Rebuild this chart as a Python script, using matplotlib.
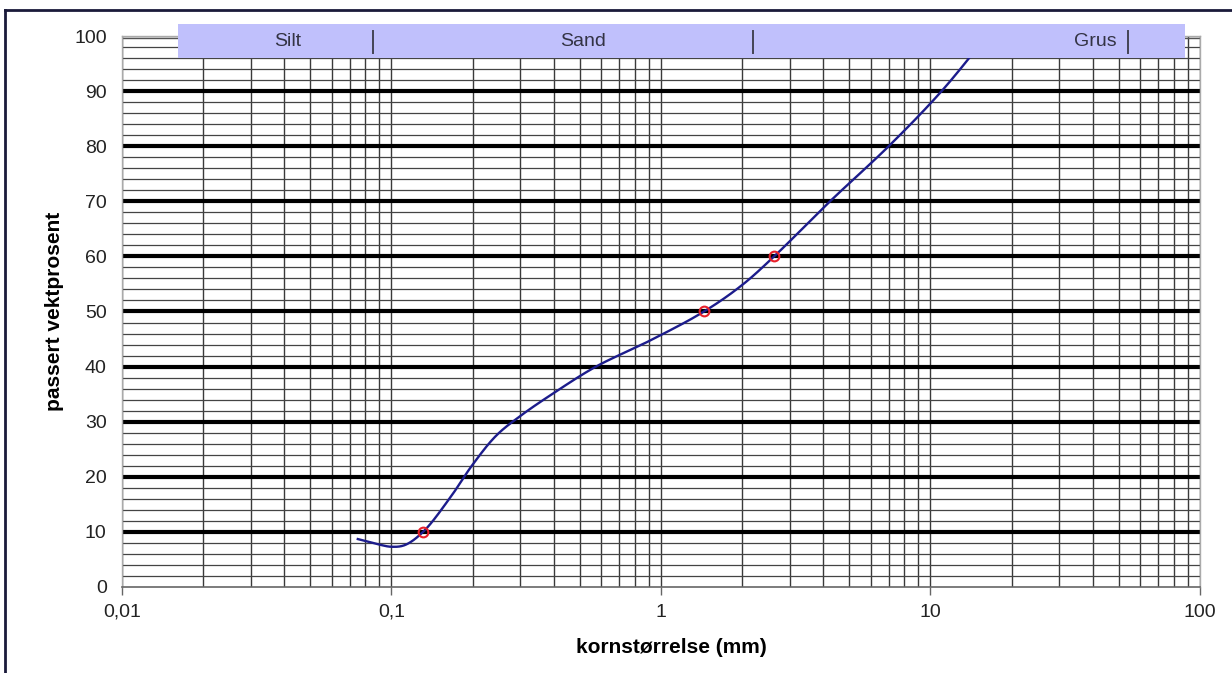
import numpy as np
import matplotlib
matplotlib.use("Agg")
import matplotlib.pyplot as plt
from matplotlib.patches import Rectangle
from matplotlib.lines import Line2D
from matplotlib.ticker import FixedLocator, FuncFormatter, LogLocator, NullFormatter

plt.rcParams['font.family'] = ['Liberation Sans', 'DejaVu Sans']

# Grain size distribution (sieve curve)
grain_mm = [0.075, 0.09, 0.1, 0.112, 0.131, 0.165, 0.2, 0.245, 0.3, 0.4, 0.574,
            0.9, 1.445, 2.0, 2.63, 4.24, 7.0, 11.0, 16.2]
passing_pct = [8.7, 7.7, 7.3, 7.6, 10.0, 16.2, 22.2, 27.5, 31.0, 35.2, 40.0,
               44.6, 50.0, 54.8, 60.0, 70.0, 80.0, 90.0, 100.0]

# Characteristic diameters d10, d50, d60
char_mm = [0.131, 1.445, 2.63]
char_pct = [10, 50, 60]

# Soil class band
class_names = ["Silt", "Sand", "Grus"]
x_tick_labels = ["0,01", "0,1", "1", "10", "100"]
x_tick_values = [0.01, 0.1, 1, 10, 100]


def smooth_curve(xs, ys, n=30):
    """Centripetal Catmull-Rom through the points (log-x, scaled to similar units)."""
    P = np.column_stack([np.log10(np.asarray(xs, float)) * 49.0,
                         np.asarray(ys, float)])
    P = np.vstack([2 * P[0] - P[1], P, 2 * P[-1] - P[-2]])
    out = []
    for i in range(1, len(P) - 2):
        p0, p1, p2, p3 = P[i - 1], P[i], P[i + 1], P[i + 2]
        t0 = 0.0
        t1 = t0 + np.linalg.norm(p1 - p0) ** 0.5
        t2 = t1 + np.linalg.norm(p2 - p1) ** 0.5
        t3 = t2 + np.linalg.norm(p3 - p2) ** 0.5
        t = np.linspace(t1, t2, n, endpoint=False)[:, None]
        a1 = (t1 - t) / (t1 - t0) * p0 + (t - t0) / (t1 - t0) * p1
        a2 = (t2 - t) / (t2 - t1) * p1 + (t - t1) / (t2 - t1) * p2
        a3 = (t3 - t) / (t3 - t2) * p2 + (t - t2) / (t3 - t2) * p3
        b1 = (t2 - t) / (t2 - t0) * a1 + (t - t0) / (t2 - t0) * a2
        b2 = (t3 - t) / (t3 - t1) * a2 + (t - t1) / (t3 - t1) * a3
        c = (t2 - t) / (t2 - t1) * b1 + (t - t1) / (t2 - t1) * b2
        out.append(c)
    out.append(P[-2][None, :])
    C = np.vstack(out)
    return 10 ** (C[:, 0] / 49.0), C[:, 1]


fig = plt.figure(figsize=(12.32, 6.73), dpi=100)
ax = fig.add_axes([0.099, 0.1278, 0.875, 0.8187])

ax.set_xscale('log')
ax.set_xlim(0.01, 100)
ax.set_ylim(0, 100)

# Grid: log minor verticals, 2 % horizontals, heavy 10 % lines
ax.xaxis.set_major_locator(FixedLocator(x_tick_values))
ax.xaxis.set_major_formatter(FuncFormatter(
    lambda v, p: x_tick_labels[x_tick_values.index(v)] if v in x_tick_values else ""))
ax.xaxis.set_minor_locator(LogLocator(base=10, subs=np.arange(2, 10)))
ax.xaxis.set_minor_formatter(NullFormatter())
ax.grid(True, which='both', axis='x', color='#3a3a3a', lw=1.0)

ax.yaxis.set_major_locator(FixedLocator(np.arange(0, 101, 10)))
ax.yaxis.set_minor_locator(FixedLocator(np.arange(0, 101, 2)))
ax.grid(True, which='minor', axis='y', color='#444444', lw=0.9)
for yv in range(10, 100, 10):
    ax.axhline(yv, color='black', lw=3.0, zorder=2)
ax.axhline(100, color='#555555', lw=1.0, zorder=2)
ax.axhline(99.6, color='#555555', lw=1.0, zorder=2)

ax.tick_params(axis='y', which='both', length=0, pad=11, labelsize=14, labelcolor='#222222')
ax.tick_params(axis='x', which='major', length=6, width=1, color='#666666', direction='out',
               pad=6, labelsize=14, labelcolor='#222222')
ax.tick_params(axis='x', which='minor', length=0)

for side in ('left', 'right', 'top'):
    ax.spines[side].set_color('#aaaaaa')
    ax.spines[side].set_linewidth(1.0)
ax.spines['bottom'].set_color('#666666')
ax.spines['bottom'].set_linewidth(1.2)

ax.set_xlabel('kornstørrelse (mm)', fontsize=15, fontweight='bold', labelpad=13)
ax.xaxis.set_label_coords(0.5093, -0.092)
ax.set_ylabel('passert vektprosent', fontsize=15, fontweight='bold', labelpad=7)

# Sieve curve and characteristic points
cx, cy = smooth_curve(grain_mm, passing_pct)
ax.plot(cx, cy, color='#1c1c8c', lw=1.7, zorder=4)
ax.plot(char_mm, char_pct, linestyle='none', marker='o', ms=7, mfc='none',
        mec='#e8202a', mew=1.5, zorder=5)

# Class band over the top of the plot
fig.add_artist(Rectangle((178 / 1232, 1 - 58 / 673), 1007 / 1232, 34 / 673,
                         transform=fig.transFigure, facecolor='#c0c0fc',
                         edgecolor='none', zorder=10))
for name, xp in zip(class_names, [288, 583, 1095]):
    fig.text(xp / 1232, 1 - 42 / 673, name, ha='center', va='center',
             fontsize=14, color='#333344', zorder=11)
for xp in [373, 753, 1128]:
    fig.add_artist(Line2D([xp / 1232, xp / 1232], [1 - 31 / 673, 1 - 53 / 673],
                          transform=fig.transFigure, color='#444455', lw=1.4, zorder=11))

# Page frame
fig.add_artist(Line2D([5 / 1232, 1.0], [1 - 10 / 673, 1 - 10 / 673],
                      transform=fig.transFigure, color='#1a1a3a', lw=2.0))
fig.add_artist(Line2D([5 / 1232, 5 / 1232], [0.0, 1 - 10 / 673],
                      transform=fig.transFigure, color='#1a1a3a', lw=2.0))

fig.savefig('out.png', dpi=100)
